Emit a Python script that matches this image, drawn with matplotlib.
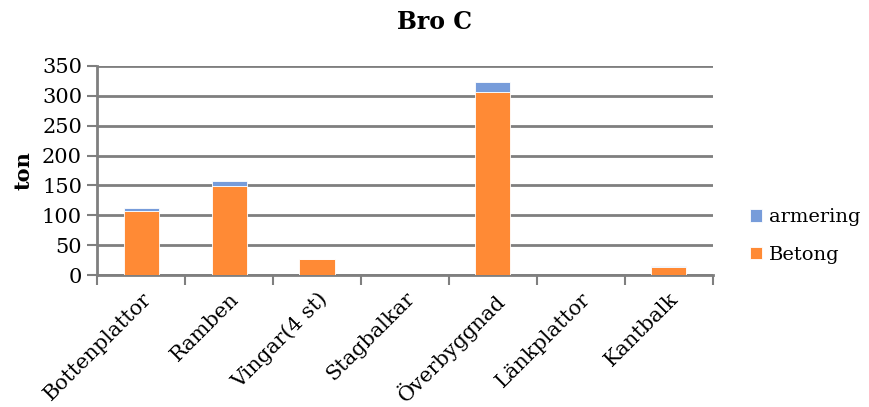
import numpy as np
import matplotlib
matplotlib.use("Agg")
import matplotlib.pyplot as plt

categories = ["Bottenplattor", "Ramben", "Vingar(4 st)", "Stagbalkar",
              "Överbyggnad", "Länkplattor", "Kantbalk"]
betong = [107, 149, 26.5, 0, 306, 0, 13]
armering = [5, 8, 1, 0, 17, 0, 1.5]
yticks = [0, 50, 100, 150, 200, 250, 300, 350]

plt.rcParams['font.family'] = ['DejaVu Serif']

fig = plt.figure(figsize=(8.69, 4.07), dpi=100)
ax = fig.add_axes([0.112, 0.324, 0.708, 0.514])

x = np.arange(len(categories))
grid_c = '#7f7f7f'
b1 = ax.bar(x, betong, width=0.4, color='#FF8A35', edgecolor='#ffffff', linewidth=0.6,
            label='Betong', zorder=3)
b2 = ax.bar(x, armering, width=0.4, bottom=betong, color='#779CDA', edgecolor='#ffffff',
            linewidth=0.6, label='armering', zorder=3)

ax.set_xlim(-0.5, len(categories) - 0.5)
ax.set_ylim(0, 350)
ax.set_yticks(yticks)
ax.tick_params(axis='y', labelsize=15, length=7, width=1.5, color=grid_c, pad=4)
ax.yaxis.grid(True, color=grid_c, linewidth=2)
ax.set_axisbelow(True)

ax.set_xticks(x)
ax.set_xticklabels(categories, rotation=45, ha='right', rotation_mode='anchor', fontsize=15)
ax.set_xticks(np.arange(-0.5, len(categories)), minor=True)
ax.tick_params(axis='x', which='major', length=0, pad=10)
ax.tick_params(axis='x', which='minor', length=7, width=1.5, color=grid_c)

for s in ['top', 'right']:
    ax.spines[s].set_visible(False)
for s in ['left', 'bottom']:
    ax.spines[s].set_color(grid_c)
    ax.spines[s].set_linewidth(2)

ax.set_ylabel('ton', fontsize=15, fontweight='bold', labelpad=6)
fig.text(0.5, 0.945, 'Bro C', ha='center', va='center', fontsize=17, fontweight='bold')

fig.legend(handles=[b2, b1], labels=['armering', 'Betong'], loc='center left',
           bbox_to_anchor=(0.843, 0.42), frameon=False, fontsize=14,
           handlelength=0.6, handleheight=0.6, handletextpad=0.35, labelspacing=1.0)

fig.savefig('out.png', dpi=100)
